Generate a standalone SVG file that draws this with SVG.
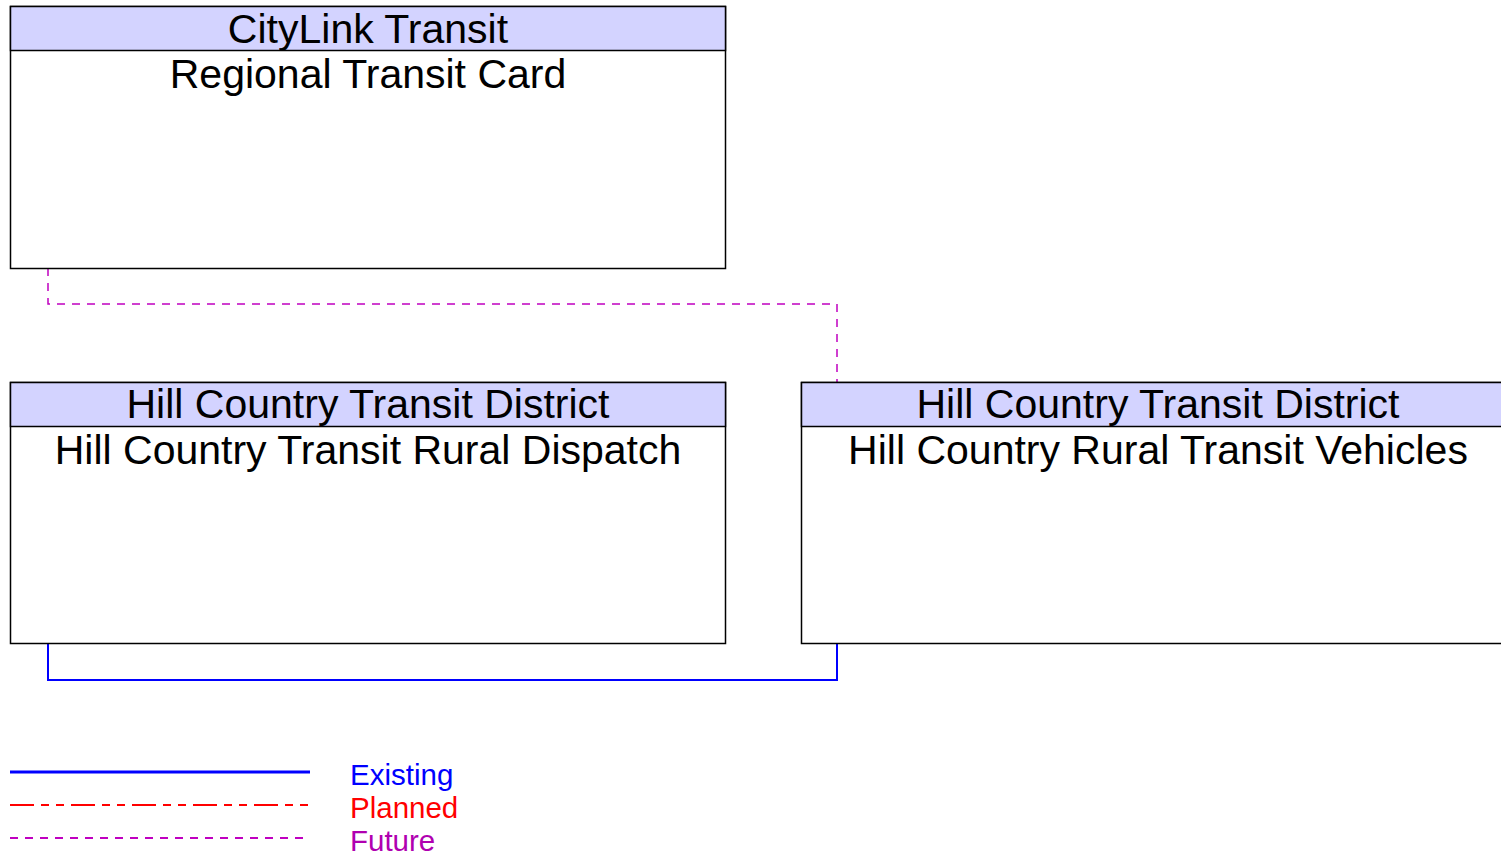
<svg xmlns="http://www.w3.org/2000/svg" width="1501" height="855" viewBox="0 0 1501 855">
<style>
.box{fill:#ffffff;stroke:#000000;stroke-width:1.5}
.hdr{fill:#d3d3ff;stroke:#000000;stroke-width:1.5}
.t{font-family:"Liberation Sans",Arial,sans-serif;font-size:41px;fill:#000000;text-anchor:middle}
.lg{font-family:"Liberation Sans",Arial,sans-serif;font-size:29.5px}
.existing{fill:none;stroke:#0000ff;stroke-width:2}
.planned{fill:none;stroke:#ff0000;stroke-width:2;stroke-dasharray:24 7 8 7 8 7}
.future{fill:none;stroke:#c000c0;stroke-width:1.5;stroke-dasharray:8 7}
</style>
<rect width="1501" height="855" fill="#ffffff"/>
<g id="connectors">
<polyline class="future" points="48,268 48,304 837,304 837,382"/>
<polyline class="existing" points="48,643 48,680 837,680 837,643"/>
</g>
<g id="node-regional-transit-card">
<rect class="box" x="10.5" y="6.5" width="715" height="262"/>
<rect class="hdr" x="10.5" y="6.5" width="715" height="44"/>
<text class="t" x="368" y="43">CityLink Transit</text>
<text class="t" x="368" y="88">Regional Transit Card</text>
</g>
<g id="node-rural-dispatch">
<rect class="box" x="10.5" y="382.5" width="715" height="261"/>
<rect class="hdr" x="10.5" y="382.5" width="715" height="44"/>
<text class="t" x="368" y="418">Hill Country Transit District</text>
<text class="t" x="368" y="464">Hill Country Transit Rural Dispatch</text>
</g>
<g id="node-rural-vehicles">
<rect class="box" x="801.5" y="382.5" width="715" height="261"/>
<rect class="hdr" x="801.5" y="382.5" width="715" height="44"/>
<text class="t" x="1158" y="418">Hill Country Transit District</text>
<text class="t" x="1158" y="464">Hill Country Rural Transit Vehicles</text>
</g>
<g id="legend">
<line class="existing" x1="10" y1="772" x2="310" y2="772" style="stroke-width:3"/>
<line class="planned" x1="10" y1="805" x2="310" y2="805"/>
<line class="future" x1="10" y1="838" x2="310" y2="838" style="stroke-width:2"/>
<text class="lg" x="350" y="785" fill="#0000ff">Existing</text>
<text class="lg" x="350" y="818" fill="#ff0000">Planned</text>
<text class="lg" x="350" y="851" fill="#b000b0">Future</text>
</g>
</svg>
